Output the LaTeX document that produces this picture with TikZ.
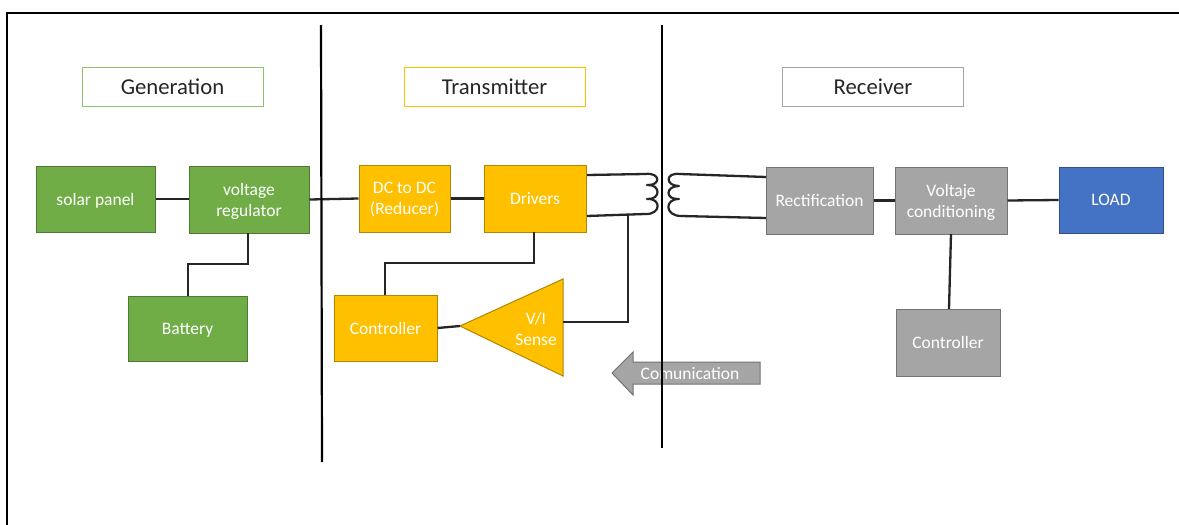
\documentclass[tikz,border=0pt]{standalone}
\usepackage{fontspec}
\setmainfont{Carlito}
\tikzset{
  x=1pt,y=-1pt,
  blk/.style={draw=#1!70!black,line width=1pt,text=white,align=center,inner sep=0pt,text depth=0pt,font=\fontsize{17.5}{21}\selectfont},
  greenbox/.style={blk=boxgreen,fill=boxgreen},
  amberbox/.style={blk=boxamber,fill=boxamber},
  graybox/.style={blk=boxgray,fill=boxgray},
  bluebox/.style={blk=boxblue,fill=boxblue},
  title/.style={draw=#1,line width=1pt,fill=white,text=black!85,minimum width=181pt,minimum height=39pt,inner sep=0pt,font=\fontsize{22.7}{26}\selectfont},
  wire/.style={draw=black!85,line width=2.3pt,line join=miter},
  divider/.style={draw=black,line width=2.2pt},
  coil/.style={draw=black!85,line width=2.2pt,line cap=round,line join=round}
}
\definecolor{boxgreen}{HTML}{70AD47}
\definecolor{boxamber}{HTML}{FFC000}
\definecolor{boxgray}{HTML}{A5A5A5}
\definecolor{boxblue}{HTML}{4472C4}
\definecolor{ttlgreen}{HTML}{8CC36A}
\newcommand{\bx}[6]{\node[#1,minimum width=#5-#3,minimum height=#6-#4,align=center] (#2) at ({(#3+#5)/2},{(#4+#6)/2})}
\begin{document}
\begin{tikzpicture}
\useasboundingbox (0,0) rectangle (1179,525);
\fill[white] (0,0) rectangle (1179,525);
\coordinate (fa) at (7,525);
\coordinate (fb) at (7,13);
\coordinate (fc) at (1179,13);
\draw[black,line width=2pt] (fa) -- (fb) -- (fc);

\node[title=ttlgreen] (gen) at (172.5,86.5) {Generation};
\node[title=boxamber] (tra) at (494.5,86.5) {Transmitter};
\node[title=boxgray] (rec) at (873,86.5) {Receiver};

\bx{greenbox}{solar}{36}{166}{155}{232}{solar panel};
\bx{greenbox}{reg}{189}{166}{309}{233}{voltage\\regulator};
\bx{greenbox}{bat}{128}{296}{247}{361}{Battery};
\bx{amberbox}{dc}{359}{165}{450}{232}{DC to DC\\(Reducer)};
\bx{amberbox}{drv}{484}{165}{586}{232}{Drivers};
\bx{amberbox}{ctl}{334}{295}{437}{361}{Controller};
\bx{graybox}{rect}{766}{167}{873}{234}{Rectification};
\bx{graybox}{volt}{895}{167}{1007}{234}{Voltaje\\conditioning};
\bx{bluebox}{load}{1059}{167}{1163}{233}{LOAD};
\bx{graybox}{ctr}{896}{309}{1000}{376}{Controller};

% triangle
\coordinate (tip) at (460,326);
\coordinate (tt) at (563,279);
\coordinate (tb) at (563,376);
\coordinate (tin) at (563,322);
\draw[draw=boxamber!70!black,fill=boxamber,line width=1pt,line join=miter] (tip) -- (tt) -- (tb) -- cycle;
\node[text=white,align=center,inner sep=0pt,font=\fontsize{17.5}{21}\selectfont] (sense) at (536,328.5) {V/I\\Sense};

% communication arrow
\draw[draw=boxgray!70!black,fill=boxgray,line width=1pt,line join=miter]
  (612,373) -- (633,352) -- (633,362) -- (760,362) -- (760,384) -- (633,384) -- (633,395) -- cycle;
\node[text=white,inner sep=0pt,font=\fontsize{17.5}{21}\selectfont] (comm) at (690,374) {Comunication};

% connectors
\draw[wire] (solar.east) -- (reg.west |- solar.east);
\draw[wire] (reg.east) -- (dc.west);
\draw[wire] (dc.east) -- (drv.west);
\coordinate (rb) at (248,233);
\coordinate (bt) at (188,296);
\draw[wire] (rb) -- (248,264) -- (188,264) -- (bt);
\coordinate (db) at (534,232);
\coordinate (ct) at (385,295);
\draw[wire] (db) -- (534,263) -- (385,263) -- (ct);
\draw[wire] (ctl.east) -- (tip);

% coil wires
\coordinate (la) at (587,175);
\coordinate (lb) at (587,216);
\coordinate (lc) at (645,174);
\coordinate (ld) at (645,214);
\coordinate (jn) at (628,215);
\draw[wire] (la) -- (lc);
\draw[wire] (lb) -- (ld);
\draw[wire] (jn) -- (628,322) -- (tin);
\coordinate (ra) at (680,174);
\coordinate (rbb) at (681,216);
\coordinate (rc) at (766,177);
\coordinate (rd) at (766,218);
\draw[wire] (ra) -- (rc);
\draw[wire] (rbb) -- (rd);
\draw[wire] (rect.east) -- (volt.west);
\draw[wire] (volt.east) -- (load.west);
\coordinate (vb) at (951,234);
\coordinate (cn) at (949,309);
\draw[wire] (vb) -- (cn);

% coils
\draw[coil] (lc) .. controls (661,172) and (661,186) .. (647,185)
  .. controls (661,184) and (661,200) .. (647,199)
  .. controls (662,198) and (661,215) .. (ld);
\draw[coil] (ra) .. controls (665,172) and (665,186) .. (679,186)
  .. controls (665,186) and (665,200) .. (679,199)
  .. controls (664,199) and (665,216) .. (rbb);

% dividers on top
\coordinate (d1a) at (321,25);
\coordinate (d1b) at (322,462);
\coordinate (d2a) at (662,25);
\coordinate (d2b) at (662,448);
\draw[divider] (d1a) -- (d1b);
\draw[divider] (d2a) -- (d2b);
\end{tikzpicture}
\end{document}
